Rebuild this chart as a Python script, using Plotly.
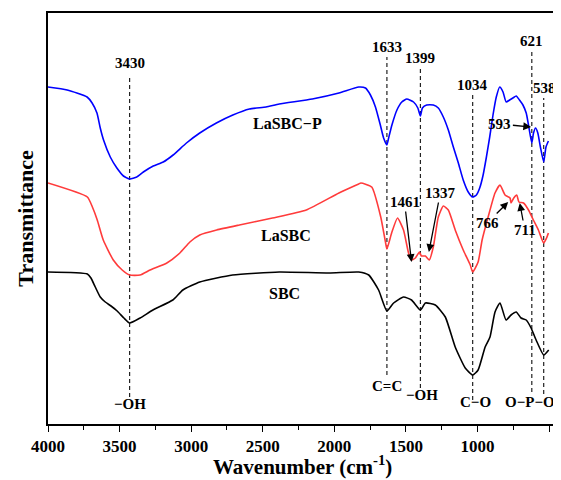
import plotly.graph_objects as go

# ---------------- data (wavenumber cm-1, transmittance a.u.) ----------------
blue_x = [4000, 3866, 3727, 3692, 3658, 3635, 3612, 3565, 3519, 3473, 3430, 3380, 3334, 3265,
          3195, 3126, 3033, 2940, 2824, 2709, 2593, 2477, 2385, 2154, 1968, 1830, 1783, 1748,
          1713, 1679, 1656, 1633, 1621, 1598, 1563, 1529, 1494, 1447, 1417, 1399, 1385, 1355,
          1309, 1274, 1239, 1204, 1169, 1134, 1100, 1065, 1034, 1008, 985, 961, 938, 915, 892,
          869, 845, 822, 800, 776, 753, 730, 707, 683, 660, 644, 621, 609, 595, 579, 561, 538,
          522, 505]
blue_y = [337, 334, 327, 321, 311, 296, 284, 267, 256, 248, 245, 247, 252, 258,
          262, 269, 281, 291, 301, 309, 315, 317, 320, 325, 331, 337, 336, 329,
          317, 299, 286, 279, 286, 299, 314, 322, 325, 322, 316, 308, 316, 319,
          319, 316, 307, 294, 277, 261, 244, 232, 227, 229, 236, 249, 267, 287, 309,
          327, 337, 332, 322, 324, 326, 328, 324, 319, 311, 299, 281, 291, 296, 291, 277, 262,
          277, 283]

red_x = [4000, 3725, 3690, 3656, 3614, 3544, 3482, 3430, 3357, 3287, 3170, 3079, 3009, 2940,
         2822, 2663, 2432, 2196, 1968, 1830, 1815, 1739, 1676, 1642, 1633, 1600, 1559, 1517,
         1482, 1461, 1434, 1406, 1392, 1364, 1337, 1309, 1274, 1239, 1204, 1156, 1100, 1051,
         1034, 996, 968, 926, 878, 843, 808, 773, 766, 747, 726, 711, 679, 644, 610, 575, 538,
         518, 505]
red_y = [241, 227, 217, 204, 184, 164, 154, 149, 149, 154, 161, 171, 182, 189,
         194, 199, 206, 214, 231, 240, 241, 237, 207, 181, 175, 191, 206, 194,
         171, 164, 166, 172, 168, 168, 164, 177, 207, 218, 214, 194, 174, 159,
         152, 162, 184, 207, 231, 239, 229, 226, 221, 226, 229, 222, 221, 214, 204, 194, 181,
         186, 191]

black_x = [4000, 3725, 3700, 3670, 3635, 3600, 3560, 3517, 3470, 3430, 3357, 3267, 3128, 3058,
           2940, 2711, 2385, 2037, 1830, 1760, 1691, 1633, 1586, 1517, 1461, 1399, 1364, 1295,
           1225, 1156, 1086, 1034, 996, 947, 913, 878, 843, 801, 766, 730, 696, 660, 626, 591,
           538, 503]
black_y = [152, 150, 146, 137, 127, 122, 118, 113, 106, 101, 106, 114, 124, 134,
           142, 149, 152, 151, 152, 149, 134, 113, 121, 127, 124, 114, 121, 119,
           107, 77, 56, 49, 54, 77, 87, 112, 121, 104, 109, 112, 106, 104, 96, 84,
           69, 74]

series_names = ["LaSBC\u2212P", "LaSBC", "SBC"]
series_colors = ["#0000FF", "#FF3B3B", "#000000"]

# marked peaks: wavenumber, top of dashed line, bottom of dashed line
peak_wn = [3430, 1633, 1399, 1034, 621, 538]
peak_top = [349, 367, 357, 329, 374, 326]
peak_bottom = [27, 49, 36, 24, 32, 30]
peak_labels = ["3430", "1633", "1399", "1034", "621", "538"]
peak_label_x = [3430, 1633, 1399, 1034, 621, 530]
peak_label_y = [361, 377, 366, 339, 383, 336]

group_labels = ["\u2212OH", "C=C", "\u2212OH", "C\u2212O", "O\u2212P\u2212O"]
group_x = [3430, 1633, 1388, 1016, 634]
group_y = [20, 38, 29, 22, 22]

# arrows: label, text position, arrow head
arrow_labels = ["593", "1461", "1337", "766", "711"]
arrow_text_x = [844, 1510, 1260, 933, 670]
arrow_text_y = [300, 222, 231, 201, 194]
arrow_head_x = [626, 1461, 1340, 786, 705]
arrow_head_y = [297, 162, 172, 222, 221]

curve_label_x = [2328, 2336, 2349]
curve_label_y = [301, 189, 131]

x_ticks = [4000, 3500, 3000, 2500, 2000, 1500, 1000, 500]

FONT = "Liberation Serif, Times New Roman, serif"

fig = go.Figure()
for xs, ys, name, col in zip([blue_x, red_x, black_x], [blue_y, red_y, black_y],
                             series_names, series_colors):
    fig.add_trace(go.Scatter(x=xs, y=ys, mode="lines", name=name,
                             line=dict(color=col, width=1.6, shape="spline", smoothing=0.5),
                             showlegend=False, hoverinfo="skip"))

for wn, y0, y1 in zip(peak_wn, peak_bottom, peak_top):
    fig.add_shape(type="line", xref="x", yref="y", x0=wn, x1=wn, y0=y0, y1=y1,
                  line=dict(color="#222222", width=1.2, dash="4px,3px"), layer="below")

ann = []
for t, x, y in zip(peak_labels, peak_label_x, peak_label_y):
    ann.append(dict(x=x, y=y, text="<b>%s</b>" % t, showarrow=False,
                    font=dict(family=FONT, size=15, color="black")))
for t, x, y in zip(group_labels, group_x, group_y):
    ann.append(dict(x=x, y=y, text="<b>%s</b>" % t, showarrow=False,
                    font=dict(family=FONT, size=15, color="black")))
for t, tx, ty, hx, hy in zip(arrow_labels, arrow_text_x, arrow_text_y, arrow_head_x, arrow_head_y):
    ann.append(dict(x=hx, y=hy, ax=tx, ay=ty, axref="x", ayref="y", text="<b>%s</b>" % t,
                    showarrow=True, arrowhead=2, arrowsize=1.2, arrowwidth=1.3,
                    arrowcolor="black", standoff=0, startstandoff=0,
                    font=dict(family=FONT, size=15, color="black")))
for t, x, y in zip(series_names, curve_label_x, curve_label_y):
    ann.append(dict(x=x, y=y, text="<b>%s</b>" % t, showarrow=False,
                    font=dict(family=FONT, size=16, color="black")))

ann.append(dict(xref="paper", yref="paper", x=-0.045, y=0.5, text="<b>Transmittance</b>",
                textangle=-90, showarrow=False, xanchor="center", yanchor="middle",
                font=dict(family=FONT, size=22, color="black")))
ann.append(dict(xref="paper", yref="paper", x=0.5, y=-0.102, text="<b>Wavenumber (cm<sup>-1</sup>)</b>",
                showarrow=False, xanchor="center", yanchor="middle",
                font=dict(family=FONT, size=21, color="black")))

# page body has an 8px margin, so the figure is 8px smaller and margins shifted
fig.update_layout(
    width=553, height=472,
    margin=dict(l=40, r=3, t=5, b=56),
    paper_bgcolor="white", plot_bgcolor="white",
    annotations=ann,
    xaxis=dict(range=[4000, 452], tickvals=x_ticks, ticktext=["<b>%d</b>" % v for v in x_ticks],
               ticks="outside", ticklen=6, tickwidth=1.2, tickcolor="black",
               minor=dict(dtick=250, ticks="outside", ticklen=4, tickwidth=1.2, tickcolor="black"),
               showline=True, linecolor="black", linewidth=1.5, mirror=True,
               showgrid=False, zeroline=False,
               tickfont=dict(family=FONT, size=17, color="black")),
    yaxis=dict(range=[0, 411], showticklabels=False, ticks="",
               showline=True, linecolor="black", linewidth=1.5, mirror=True,
               showgrid=False, zeroline=False),
)

fig.write_html("out.html")
